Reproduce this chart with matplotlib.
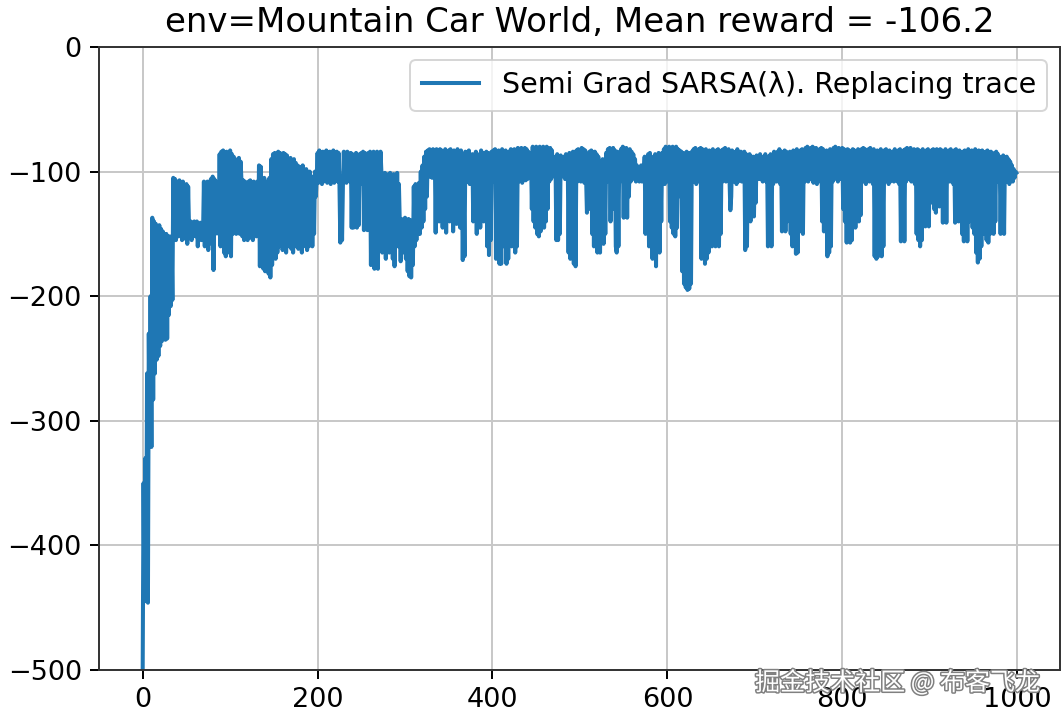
import numpy as np
import matplotlib
matplotlib.use("Agg")
import matplotlib.pyplot as plt
import matplotlib.patheffects as pe

S = 1.773  # scale factor from the original small figure

title = "env=Mountain Car World, Mean reward = -106.2"
label = "Semi Grad SARSA(λ). Replacing trace"
watermark = "掘金技术社区 @ 布客飞龙"

rewards = [
    -500, -350, -445, -330, -440, -262, -446, -230, -320, -200, -321, -137, -283, -140, -262, -142, -251, -145, -248, -143,
    -240, -146, -236, -148, -228, -150, -235, -150, -234, -152, -215, -152, -208, -155, -203, -105, -150, -106, -155, -108,
    -110, -152, -107, -148, -110, -155, -108, -150, -112, -154, -110, -158, -112, -145, -150, -140, -155, -142, -152, -140,
    -145, -152, -140, -160, -143, -150, -141, -155, -145, -150, -108, -160, -112, -150, -108, -163, -110, -150, -106, -158,
    -104, -179, -106, -150, -108, -145, -110, -150, -86, -160, -84, -150, -83, -165, -85, -168, -84, -160, -88, -165,
    -83, -168, -86, -150, -88, -120, -90, -150, -91, -145, -89, -150, -92, -108, -152, -107, -155, -108, -150, -110,
    -155, -108, -150, -107, -153, -109, -155, -108, -150, -110, -152, -108, -150, -95, -176, -96, -174, -110, -178, -105,
    -180, -108, -176, -110, -182, -105, -185, -90, -175, -86, -160, -85, -170, -86, -165, -84, -160, -85, -150, -86,
    -163, -85, -160, -86, -165, -87, -160, -90, -150, -89, -162, -92, -165, -90, -160, -93, -155, -95, -162, -96,
    -160, -100, -165, -95, -158, -103, -160, -98, -163, -104, -160, -100, -155, -105, -160, -104, -150, -100, -120, -104,
    -85, -109, -83, -105, -86, -110, -84, -108, -85, -100, -83, -109, -86, -104, -84, -110, -85, -105, -83, -109,
    -86, -104, -84, -108, -85, -110, -157, -120, -155, -110, -84, -106, -85, -109, -84, -104, -86, -108, -85, -145,
    -86, -145, -90, -140, -85, -145, -88, -143, -86, -110, -85, -108, -84, -147, -85, -140, -86, -147, -85, -110,
    -84, -175, -86, -165, -84, -178, -85, -110, -84, -178, -85, -105, -84, -101, -165, -102, -160, -101, -170, -104,
    -160, -102, -165, -101, -160, -103, -170, -102, -176, -104, -155, -101, -160, -110, -140, -172, -138, -160, -140, -165,
    -137, -170, -140, -180, -138, -184, -139, -185, -140, -175, -112, -160, -110, -155, -115, -150, -109, -150, -100, -145,
    -95, -140, -88, -130, -84, -120, -83, -104, -82, -104, -83, -105, -82, -104, -83, -149, -82, -105, -84, -140,
    -82, -106, -83, -145, -84, -108, -82, -149, -85, -107, -83, -140, -82, -110, -84, -148, -83, -105, -85, -142,
    -82, -108, -84, -145, -83, -106, -171, -110, -168, -84, -106, -85, -108, -83, -110, -90, -98, -86, -140, -88,
    -108, -84, -150, -86, -105, -98, -145, -83, -110, -85, -140, -86, -108, -84, -160, -85, -167, -88, -155, -84,
    -107, -83, -108, -82, -170, -84, -165, -83, -174, -85, -174, -82, -160, -84, -150, -83, -174, -85, -170, -84,
    -110, -82, -160, -83, -150, -82, -165, -84, -160, -81, -108, -82, -105, -81, -109, -83, -104, -81, -107, -82,
    -106, -84, -90, -100, -85, -130, -80, -140, -82, -145, -80, -150, -81, -152, -80, -148, -82, -140, -80, -145,
    -81, -140, -80, -130, -82, -108, -81, -106, -83, -100, -90, -104, -88, -155, -86, -155, -88, -150, -87, -100,
    -90, -104, -88, -106, -86, -100, -88, -165, -85, -170, -86, -160, -84, -174, -85, -176, -83, -108, -82, -106,
    -83, -108, -81, -105, -82, -109, -83, -104, -133, -120, -130, -84, -106, -83, -150, -85, -160, -84, -155, -86,
    -165, -88, -160, -165, -95, -150, -90, -158, -100, -150, -85, -108, -82, -106, -81, -140, -82, -130, -81, -108,
    -83, -160, -165, -84, -160, -85, -108, -82, -106, -80, -137, -82, -130, -81, -137, -83, -120, -82, -108, -84,
    -106, -86, -104, -90, -108, -95, -104, -100, -108, -105, -95, -108, -100, -104, -88, -150, -90, -140, -86, -160,
    -85, -150, -90, -170, -88, -160, -86, -176, -90, -150, -85, -165, -88, -140, -85, -108, -82, -110, -80, -106,
    -81, -108, -80, -140, -82, -145, -80, -150, -81, -152, -80, -145, -82, -110, -83, -120, -84, -180, -85, -190,
    -86, -193, -84, -195, -86, -194, -85, -190, -84, -108, -82, -106, -81, -110, -83, -104, -82, -108, -81, -170,
    -82, -106, -84, -174, -82, -170, -85, -165, -83, -108, -84, -160, -82, -158, -84, -160, -83, -155, -82, -160,
    -84, -150, -83, -108, -82, -106, -81, -108, -83, -104, -82, -105, -131, -120, -83, -108, -85, -106, -84, -110,
    -82, -108, -86, -104, -84, -108, -85, -106, -84, -163, -86, -160, -88, -135, -86, -140, -90, -130, -88, -136,
    -90, -125, -87, -104, -88, -106, -86, -104, -90, -108, -88, -105, -86, -108, -90, -160, -88, -155, -86, -160,
    -88, -110, -84, -106, -86, -108, -84, -104, -82, -110, -84, -148, -85, -145, -83, -148, -84, -140, -86, -110,
    -84, -150, -85, -160, -83, -155, -84, -166, -82, -165, -84, -108, -83, -148, -82, -150, -84, -108, -81, -106,
    -80, -108, -82, -106, -81, -104, -80, -109, -82, -106, -81, -110, -83, -108, -82, -106, -81, -140, -82, -148,
    -84, -145, -83, -168, -84, -165, -82, -160, -83, -108, -81, -106, -80, -104, -82, -108, -81, -106, -82, -104,
    -81, -130, -82, -140, -84, -157, -82, -150, -83, -157, -84, -155, -82, -140, -83, -145, -84, -130, -82, -140,
    -84, -135, -82, -106, -81, -108, -82, -110, -83, -104, -82, -108, -81, -106, -84, -110, -82, -168, -84, -170,
    -83, -168, -84, -165, -82, -168, -85, -160, -83, -108, -82, -106, -84, -110, -83, -108, -85, -104, -84, -108,
    -82, -106, -84, -108, -83, -110, -82, -156, -84, -150, -83, -156, -82, -108, -81, -106, -82, -104, -81, -108,
    -83, -106, -82, -110, -84, -150, -82, -155, -83, -160, -84, -155, -82, -108, -84, -144, -83, -140, -82, -144,
    -84, -106, -83, -125, -82, -130, -84, -133, -82, -123, -84, -128, -82, -106, -83, -141, -84, -135, -82, -141,
    -84, -106, -83, -108, -82, -106, -84, -110, -83, -141, -82, -135, -84, -140, -83, -108, -85, -150, -84, -156,
    -83, -150, -84, -156, -82, -140, -84, -108, -83, -145, -84, -150, -82, -165, -84, -173, -83, -170, -84, -160,
    -83, -150, -85, -140, -84, -155, -83, -157, -85, -150, -84, -145, -86, -150, -85, -140, -84, -108, -86, -106,
    -88, -150, -90, -145, -87, -150, -90, -108, -88, -106, -90, -110, -92, -104, -95, -108, -98, -105, -100, -101,
]
episodes = np.arange(len(rewards))

fig = plt.figure(figsize=(10.64, 7.16), dpi=100)
ax = fig.add_axes([99 / 1064, 1 - 670 / 716, (1060 - 99) / 1064, (670 - 47) / 716])

ax.plot(episodes, rewards, color="#1f77b4", lw=2.9, label=label)
ax.set_ylim(-500, 0)
ax.set_xticks([0, 200, 400, 600, 800, 1000])
ax.set_yticks([-500, -400, -300, -200, -100, 0])
ax.grid(True, color="#c8c8c8", lw=0.8 * S)
ax.set_axisbelow(True)
ax.tick_params(labelsize=19.5, length=3.5 * S, width=0.8 * S, pad=3.5 * S)
for sp in ax.spines.values():
    sp.set_linewidth(0.8 * S)
    sp.set_color("#333333")
ax.set_title(title, fontsize=24.5, pad=6 * S)
leg = ax.legend(loc="upper right", fontsize=20.5, handlelength=2.0,
                borderpad=0.4, framealpha=0.8, borderaxespad=0.45)
leg.get_frame().set_linewidth(0.8 * S)

fig.text(1040 / 1064, 1 - 683 / 716, watermark, ha="right", va="center",
         fontsize=18, color="white", family=["Noto Sans CJK SC", "DejaVu Sans"],
         path_effects=[pe.withStroke(linewidth=2.2, foreground="#808080")], zorder=10)

fig.savefig("out.png", dpi=100)
